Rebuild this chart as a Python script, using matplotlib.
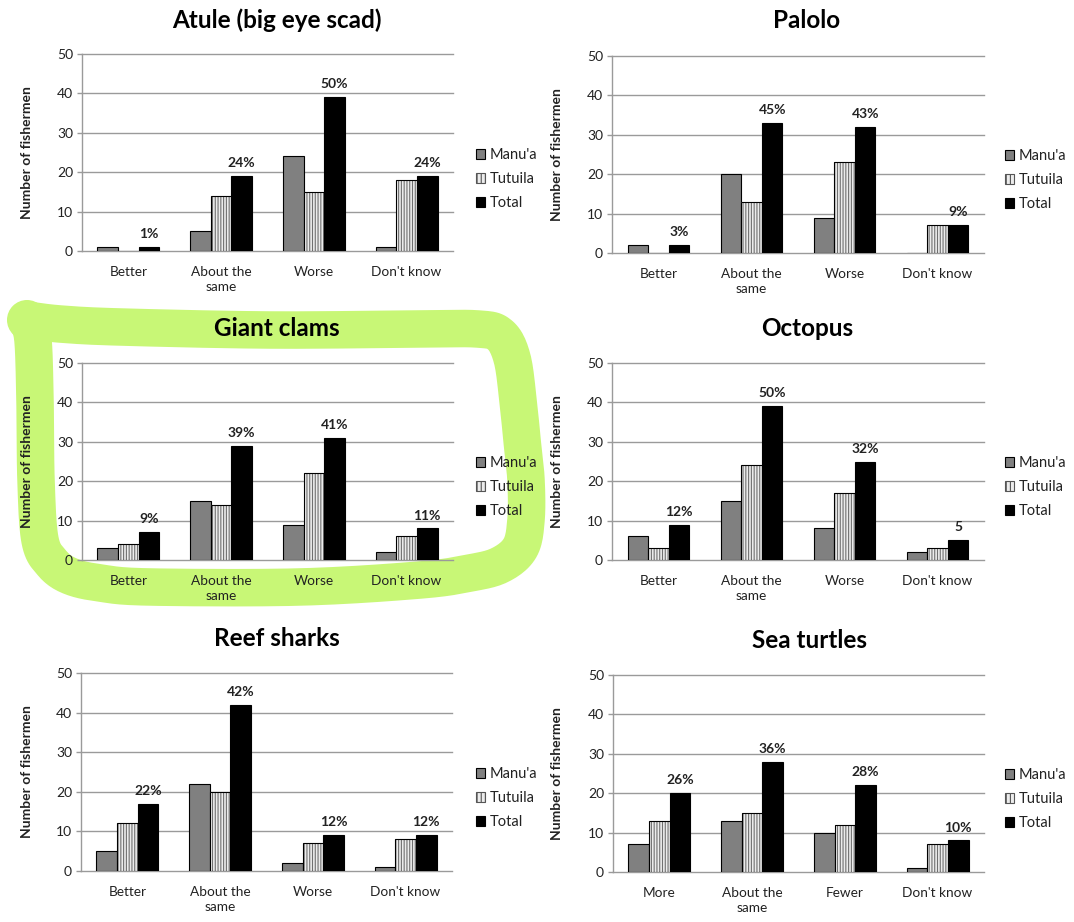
import numpy as np
import matplotlib
matplotlib.use("Agg")
import matplotlib.pyplot as plt
from matplotlib.patches import Patch, Circle

# ---------------------------------------------------------------- data
series_names = ["Manu'a", "Tutuila", "Total"]
trend_categories = ["Better", "About the\nsame", "Worse", "Don't know"]
turtle_categories = ["More", "About the\nsame", "Fewer", "Don't know"]

atule_manua = [1, 5, 24, 1]
atule_tutuila = [0, 14, 15, 18]
atule_total = [1, 19, 39, 19]
atule_labels = ["1%", "24%", "50%", "24%"]

palolo_manua = [2, 20, 9, 0]
palolo_tutuila = [0, 13, 23, 7]
palolo_total = [2, 33, 32, 7]
palolo_labels = ["3%", "45%", "43%", "9%"]

clams_manua = [3, 15, 9, 2]
clams_tutuila = [4, 14, 22, 6]
clams_total = [7, 29, 31, 8]
clams_labels = ["9%", "39%", "41%", "11%"]

octopus_manua = [6, 15, 8, 2]
octopus_tutuila = [3, 24, 17, 3]
octopus_total = [9, 39, 25, 5]
octopus_labels = ["12%", "50%", "32%", "5"]

sharks_manua = [5, 22, 2, 1]
sharks_tutuila = [12, 20, 7, 8]
sharks_total = [17, 42, 9, 9]
sharks_labels = ["22%", "42%", "12%", "12%"]

turtles_manua = [7, 13, 10, 1]
turtles_tutuila = [13, 15, 12, 7]
turtles_total = [20, 28, 22, 8]
turtles_labels = ["26%", "36%", "28%", "10%"]

y_ticks = [0, 10, 20, 30, 40, 50]

# ---------------------------------------------------------------- style
W, H = 1074, 922
plt.rcParams["font.family"] = ["Lato", "DejaVu Sans"]
plt.rcParams["hatch.linewidth"] = 0.8

MANUA_COLOR = "#808080"
TUTUILA_FACE = "#ececec"
TUTUILA_HATCH = "#707070"
TOTAL_COLOR = "#000000"
GRID_COLOR = "#9a9a9a"
TEXT_COLOR = "#222222"
HIGHLIGHT = "#c8f776"

fig = plt.figure(figsize=(W / 100, H / 100), dpi=100)
fig.patch.set_facecolor("white")


def fx(px):
    return px / W


def fy(py):
    return 1 - py / H


# Hand-drawn highlighter loop around one panel (pixel coordinates, y down)
bg = fig.add_axes([0, 0, 1, 1], zorder=-1)
bg.set_xlim(0, W)
bg.set_ylim(H, 0)
bg.axis("off")

loop_pts = np.array([
    (27, 320), (60, 324), (120, 327), (270, 330), (420, 329), (478, 329),
    (500, 335), (512, 358), (518, 400), (522, 440), (526, 480), (526, 520),
    (520, 548), (500, 565), (470, 573), (420, 580), (300, 587), (150, 587),
    (100, 583), (70, 576), (52, 563), (40, 540), (36, 480), (35, 400),
    (33, 340), (28, 322),
], dtype=float)


def catmull_rom(pts, n=12):
    out = []
    p = np.vstack([pts[0], pts, pts[-1]])
    for i in range(1, len(p) - 2):
        p0, p1, p2, p3 = p[i - 1], p[i], p[i + 1], p[i + 2]
        for t in np.linspace(0, 1, n, endpoint=False):
            t2, t3 = t * t, t * t * t
            out.append(0.5 * ((2 * p1) + (-p0 + p2) * t
                              + (2 * p0 - 5 * p1 + 4 * p2 - p3) * t2
                              + (-p0 + 3 * p1 - 3 * p2 + p3) * t3))
    out.append(p[-2])
    return np.array(out)


smooth = catmull_rom(loop_pts)
bg.plot(smooth[:, 0], smooth[:, 1], color=HIGHLIGHT, lw=27,
        solid_capstyle="round", solid_joinstyle="round")
bg.add_patch(Circle((27, 320), 20, color=HIGHLIGHT, lw=0))

# ---------------------------------------------------------------- panels
panels = [
    dict(title="Atule (big eye scad)", cats=trend_categories,
         vals=(atule_manua, atule_tutuila, atule_total), labels=atule_labels,
         box=(82, 453, 54, 251), title_xy=(277, 20), legend_y=179, legend_x=476),
    dict(title="Palolo", cats=trend_categories,
         vals=(palolo_manua, palolo_tutuila, palolo_total), labels=palolo_labels,
         box=(612, 984, 56, 253), title_xy=(807, 21), legend_y=180, legend_x=1005),
    dict(title="Giant clams", cats=trend_categories,
         vals=(clams_manua, clams_tutuila, clams_total), labels=clams_labels,
         box=(82, 453, 363, 560), title_xy=(277, 328), legend_y=487, legend_x=476),
    dict(title="Octopus", cats=trend_categories,
         vals=(octopus_manua, octopus_tutuila, octopus_total), labels=octopus_labels,
         box=(612, 984, 363, 560), title_xy=(807, 328), legend_y=487, legend_x=1005),
    dict(title="Reef sharks", cats=trend_categories,
         vals=(sharks_manua, sharks_tutuila, sharks_total), labels=sharks_labels,
         box=(81, 452, 673, 871), title_xy=(277, 638), legend_y=798, legend_x=476),
    dict(title="Sea turtles", cats=turtle_categories,
         vals=(turtles_manua, turtles_tutuila, turtles_total), labels=turtles_labels,
         box=(613, 984, 675, 872), title_xy=(809, 640), legend_y=799, legend_x=1005),
]

bar_w = 0.222
offsets = [-bar_w, 0.0, bar_w]

legend_handles = [
    Patch(facecolor=MANUA_COLOR, edgecolor="black", lw=0.8),
    Patch(facecolor=TUTUILA_FACE, edgecolor="#555555", lw=0.8, hatch="||||"),
    Patch(facecolor=TOTAL_COLOR, edgecolor="black", lw=0.8),
]

for p in panels:
    l, r, t, b = p["box"]
    ax = fig.add_axes([fx(l), fy(b), (r - l) / W, (b - t) / H])
    ax.set_facecolor("none")
    x = np.arange(len(p["cats"]))
    manua, tutuila, total = p["vals"]

    ax.bar(x + offsets[0], manua, bar_w, color=MANUA_COLOR,
           edgecolor="black", lw=0.8, zorder=3)
    ax.bar(x + offsets[1], tutuila, bar_w, color=TUTUILA_FACE,
           edgecolor=TUTUILA_HATCH, lw=0, hatch="||||||", zorder=3)
    ax.bar(x + offsets[1], tutuila, bar_w, facecolor="none",
           edgecolor="black", lw=0.8, zorder=4)
    ax.bar(x + offsets[2], total, bar_w, color=TOTAL_COLOR,
           edgecolor="black", lw=0.8, zorder=3)

    for xi, v, lab in zip(x, total, p["labels"]):
        ax.annotate(lab, (xi + offsets[2], v), xytext=(0, 5),
                    textcoords="offset points", ha="center", va="bottom",
                    fontsize=10, fontweight="bold", color=TEXT_COLOR)

    ax.set_xlim(-0.5, len(p["cats"]) - 0.5)
    ax.set_ylim(0, 50)
    for yv in y_ticks:
        ax.axhline(yv, color=GRID_COLOR, lw=1.0, zorder=1, clip_on=False)

    for side in ("top", "right", "bottom"):
        ax.spines[side].set_visible(False)
    ax.spines["left"].set_color(GRID_COLOR)
    ax.spines["left"].set_linewidth(1.0)

    ax.set_yticks(y_ticks)
    ax.set_xticks(x)
    ax.set_xticklabels(p["cats"], linespacing=1.3)
    ax.tick_params(axis="y", direction="out", length=3.5, width=1.0,
                   color=GRID_COLOR, labelsize=10, labelcolor=TEXT_COLOR, pad=3)
    ax.tick_params(axis="x", length=0, labelsize=9.8, labelcolor=TEXT_COLOR, pad=11)

    ax.set_ylabel("Number of fishermen", fontsize=10, fontweight="bold",
                  color=TEXT_COLOR)
    ylab_px = 33 if l < 500 else 563
    ax.yaxis.set_label_coords((ylab_px - l) / (r - l), 0.5)

    fig.text(fx(p["title_xy"][0]), fy(p["title_xy"][1]), p["title"],
             ha="center", va="center", fontsize=17.5, fontweight="bold",
             color="black")

    ax.legend(legend_handles, series_names, loc="center left",
              bbox_to_anchor=(fx(p["legend_x"]), fy(p["legend_y"])),
              bbox_transform=fig.transFigure, frameon=False,
              fontsize=10.5, handlelength=0.65, handleheight=0.65,
              handletextpad=0.3, labelspacing=0.7, borderpad=0,
              borderaxespad=0, labelcolor=TEXT_COLOR)

fig.savefig("out.png", dpi=100, facecolor="white")
